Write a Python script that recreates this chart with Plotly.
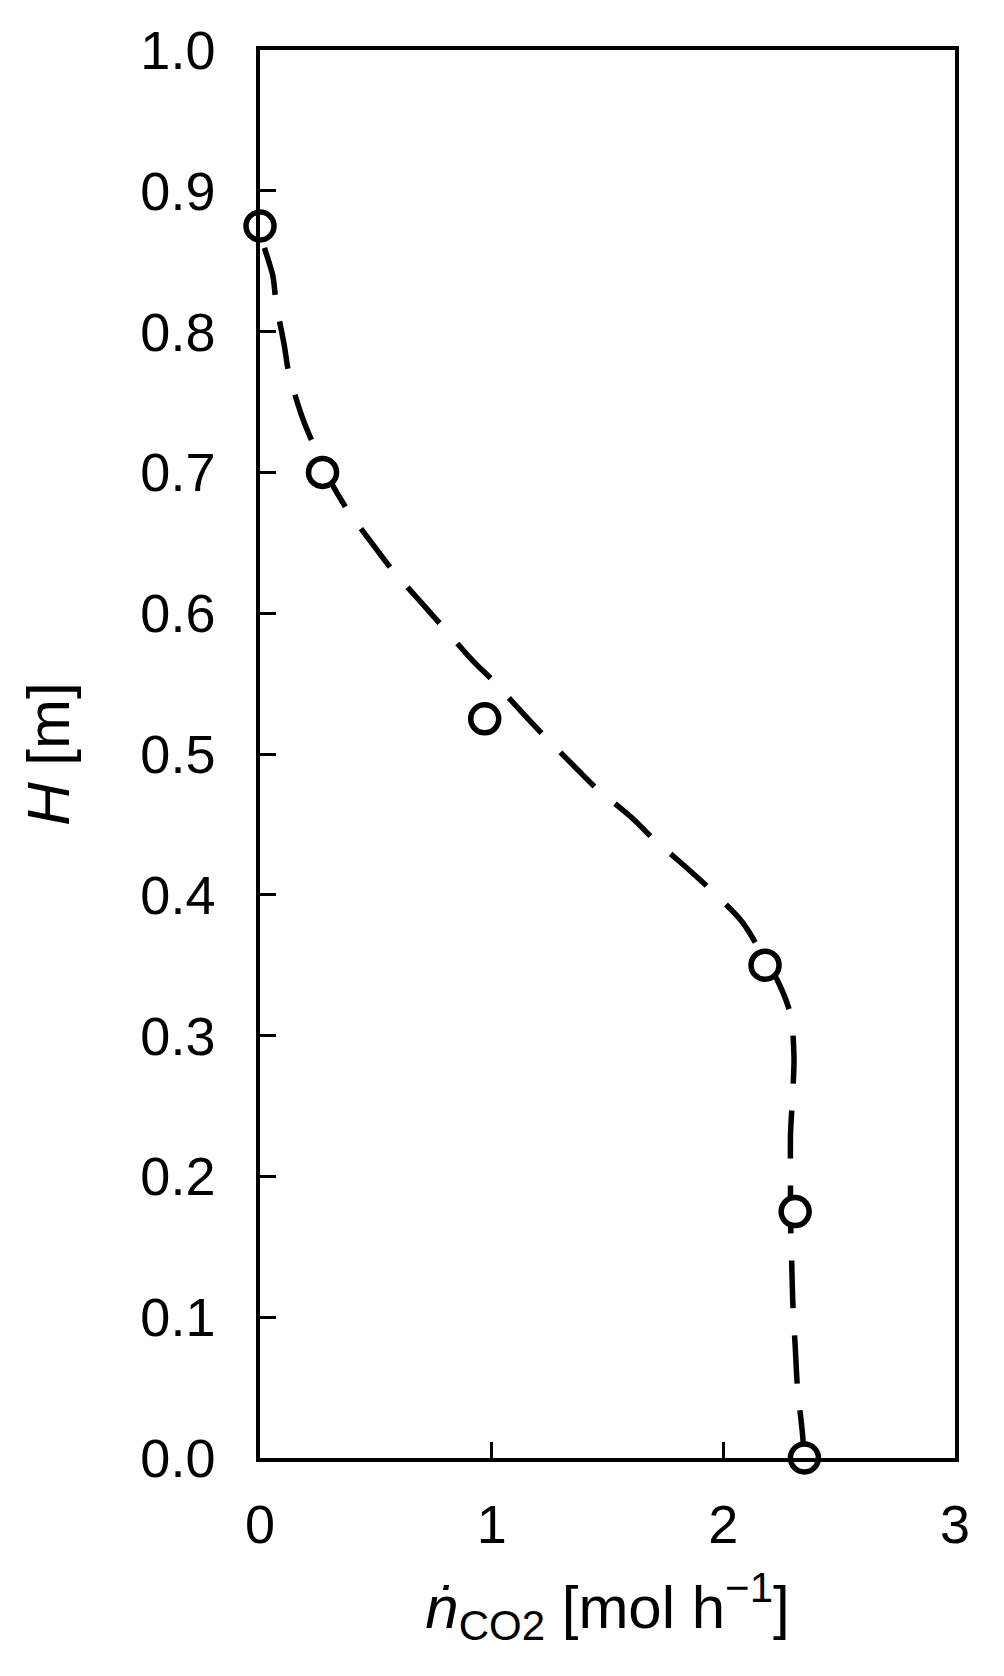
import plotly.graph_objects as go

# measured points: height H [m] vs CO2 molar flow [mol/h]
height_pts = [0.0, 0.175, 0.35, 0.525, 0.70, 0.875]
nco2_pts = [2.35, 2.31, 2.18, 0.97, 0.27, 0.0]

# model curve (dashed)
curve_h = [0.00, 0.02, 0.05, 0.08, 0.11, 0.14, 0.17, 0.20, 0.23, 0.26, 0.285,
           0.315, 0.337, 0.36, 0.381, 0.406, 0.418, 0.441, 0.454, 0.476, 0.489,
           0.514, 0.528, 0.553, 0.566, 0.592, 0.605, 0.631, 0.646, 0.674, 0.695,
           0.72, 0.738, 0.77, 0.79, 0.82, 0.84, 0.862, 0.875]
curve_n = [2.35, 2.34, 2.32, 2.31, 2.30, 2.295, 2.29, 2.29, 2.29, 2.30, 2.305,
           2.29, 2.24, 2.16, 2.08, 1.93, 1.85, 1.69, 1.61, 1.45, 1.37,
           1.22, 1.14, 1.0, 0.92, 0.78, 0.71, 0.57, 0.50, 0.375, 0.30,
           0.23, 0.185, 0.125, 0.105, 0.07, 0.055, 0.015, 0.0]

x_ticks = [0, 1, 2, 3]
y_ticks = [0.0, 0.1, 0.2, 0.3, 0.4, 0.5, 0.6, 0.7, 0.8, 0.9, 1.0]

font_family = "Liberation Sans, Arial, sans-serif"

fig = go.Figure()
fig.add_trace(go.Scatter(
    x=curve_n, y=curve_h, mode="lines",
    line=dict(color="black", width=5.5, dash="48px,27px",
              shape="spline", smoothing=0.8),
    hoverinfo="skip", showlegend=False, cliponaxis=False,
))
fig.add_trace(go.Scatter(
    x=nco2_pts, y=height_pts, mode="markers",
    marker=dict(symbol="circle", size=28, color="white",
                line=dict(color="black", width=5.5)),
    showlegend=False, cliponaxis=False,
))

axis_common = dict(
    showline=True, linecolor="black", linewidth=3.5, mirror=True,
    ticks="inside", ticklen=16, tickwidth=3, tickcolor="black",
    showgrid=False, zeroline=False,
    tickfont=dict(family=font_family, size=54, color="black"),
)

fig.update_xaxes(
    range=[0, 3], tickvals=x_ticks, ticktext=[str(v) for v in x_ticks],
    ticklabelstandoff=16,
    title=dict(text="<i>ṅ</i><sub>CO2</sub> [mol h<sup>−1</sup>]",
               font=dict(family=font_family, size=60, color="black"),
               standoff=34),
    **axis_common,
)
fig.update_yaxes(
    range=[0, 1], tickvals=y_ticks, ticktext=["%.1f" % v for v in y_ticks],
    ticklabelstandoff=30,
    title=dict(text="<i>H</i> [m]",
               font=dict(family=font_family, size=60, color="black"),
               standoff=52),
    **axis_common,
)

# the page body adds an 8px margin, so the figure is shrunk by that much
fig.update_layout(
    width=996, height=1668,
    margin=dict(l=252, r=49, t=39, b=218),
    plot_bgcolor="white", paper_bgcolor="white",
    font=dict(family=font_family, color="black"),
)

fig.write_html("out.html")
